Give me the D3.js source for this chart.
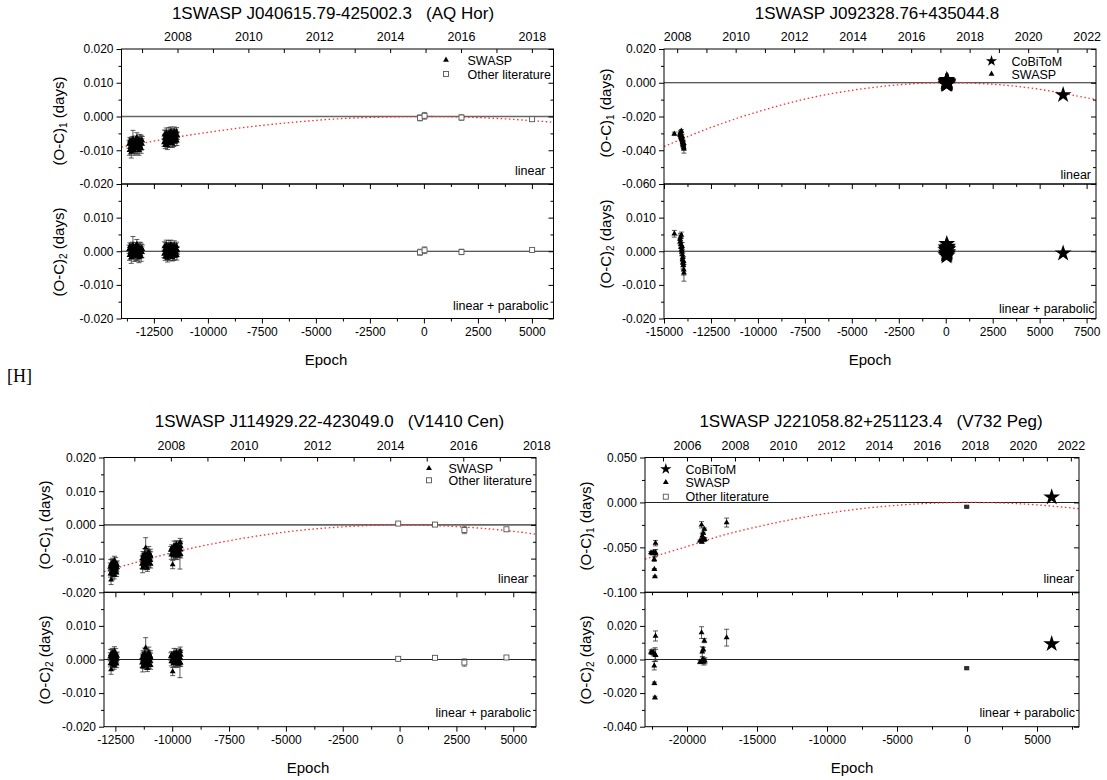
<!DOCTYPE html>
<html><head><meta charset="utf-8">
<script src="https://cdn.jsdelivr.net/npm/d3@7"></script>
<style>body{margin:0;background:#fff}svg{display:block}text{white-space:pre}</style>
</head><body>
<script>
// ================= DATA =================
// ---- Panel 1: 1SWASP J040615.79-425002.3 (AQ Hor)
const p1SwaspE = [-13650,-13630,-13610,-13590,-13570,-13550,-13530,-13510,-13490,-13470,-13450,-13430,-13410,-13390,-13370,-13350,-13330,-13310,-13290,-13270,-13250,-13230,-13210,-13190,-13170,-13150,-13130,-13110,-13090,-13070,-13055,-13040,
-12030,-12012,-11995,-11977,-11960,-11942,-11925,-11907,-11890,-11872,-11855,-11837,-11820,-11802,-11785,-11767,-11750,-11732,-11715,-11697,-11680,-11662,-11645,-11627,-11610,-11592,-11575,-11557,-11540,-11522,-11505,-11487,-11470,-11452,-11435,-11410];
const p1SwaspOC1 = [-0.0082,-0.0100,-0.0072,-0.0091,-0.0078,-0.0105,-0.0084,-0.0075,-0.0093,-0.0066,-0.0095,-0.0081,-0.0100,-0.0076,-0.0086,-0.0071,-0.0092,-0.0080,-0.0062,-0.0095,-0.0075,-0.0087,-0.0070,-0.0100,-0.0080,-0.0070,-0.0088,-0.0075,-0.0095,-0.0070,-0.0082,-0.0072,
-0.0077,-0.0054,-0.0065,-0.0085,-0.0058,-0.0071,-0.0049,-0.0078,-0.0060,-0.0086,-0.0054,-0.0065,-0.0078,-0.0049,-0.0071,-0.0057,-0.0079,-0.0060,-0.0044,-0.0073,-0.0052,-0.0065,-0.0081,-0.0056,-0.0049,-0.0072,-0.0059,-0.0045,-0.0075,-0.0056,-0.0068,-0.0051,-0.0063,-0.0045,-0.0072,-0.0057];
const p1SwaspOC2 = [0.0006,-0.0012,0.0015,-0.0004,0.0009,-0.0018,0.0002,0.0011,-0.0007,0.0019,-0.0010,0.0004,-0.0015,0.0008,-0.0002,0.0013,-0.0009,0.0003,0.0021,-0.0013,0.0007,-0.0005,0.0012,-0.0019,0.0001,0.0010,-0.0008,0.0005,-0.0016,0.0009,-0.0003,0.0006,
-0.0008,0.0014,0.0003,-0.0017,0.0009,-0.0004,0.0018,-0.0011,0.0006,-0.0020,0.0012,0.0001,-0.0013,0.0016,-0.0006,0.0008,-0.0015,0.0004,0.0020,-0.0009,0.0011,-0.0002,-0.0018,0.0007,0.0013,-0.0010,0.0003,0.0017,-0.0014,0.0005,-0.0007,0.0010,-0.0003,0.0015,-0.0012,0.0002];
const p1SwaspErr = [0.0012,0.0015,0.0010,0.0020,0.0013,0.0018,0.0011,0.0016,0.0014,0.0025,0.0012,0.0017,0.0015,0.0010,0.0022,0.0013,0.0019,0.0011,0.0014,0.0016,0.0012,0.0018,0.0010,0.0015,0.0013,0.0017,0.0011,0.0020,0.0014,0.0012,0.0016,0.0013,
0.0011,0.0014,0.0012,0.0010,0.0016,0.0013,0.0015,0.0011,0.0018,0.0012,0.0014,0.0010,0.0013,0.0016,0.0011,0.0015,0.0012,0.0019,0.0013,0.0010,0.0014,0.0012,0.0011,0.0015,0.0013,0.0017,0.0010,0.0014,0.0012,0.0016,0.0011,0.0013,0.0015,0.0012,0.0014,0.0011];
const p1LitE = [-180, 30, 1740, 5010];
const p1LitOC1 = [-0.0004, 0.0002, -0.0003, -0.0008];
const p1LitOC2 = [-0.0003, 0.0003, -0.0002, 0.0004];
const p1LitErr = [0.0009, 0.0010, 0.0008, 0.0002];
const p1FitE = [-14000,-12000,-10000,-8000,-6000,-4000,-2000,0,2000,4000,6000];
const p1FitOC = [-0.0091,-0.0067,-0.0047,-0.0030,-0.0017,-0.0007,-0.0002,0.0000,-0.0002,-0.0008,-0.0017];
const p1XTicks = [-12500,-10000,-7500,-5000,-2500,0,2500,5000];
const p1XMinor = [-13750,-11250,-8750,-6250,-3750,-1250,1250,3750];
const p1YATicks = [0.02,0.01,0,-0.01,-0.02];
const p1YBTicks = [0.01,0,-0.01,-0.02];
const p1YMinor = [0.015,0.005,-0.005,-0.015];
const p1YearTicks = [2007,2008,2009,2010,2011,2012,2013,2014,2015,2016,2017,2018];
const p1YearLabels = [2008,2010,2012,2014,2016,2018];

// ---- Panel 2: 1SWASP J092328.76+435044.8
const p2SwaspE = [-14450,-14150,-14135,-14120,-14105,-14090,-14075,-14062,-14050,-14038,-14025,-14012,-14000,-13988,-13975,-13962,-13950,-13940];
const p2SwaspOC1 = [-0.0303,-0.0303,-0.0310,-0.0295,-0.0316,-0.0323,-0.0286,-0.0328,-0.0334,-0.0317,-0.0341,-0.0355,-0.0348,-0.0365,-0.0371,-0.0359,-0.0383,-0.0392];
const p2SwaspOC2 = [0.0052,0.0036,0.0028,0.0042,0.0020,0.0012,0.0048,0.0005,-0.0002,0.0015,-0.0010,-0.0025,-0.0018,-0.0035,-0.0042,-0.0030,-0.0055,-0.0064];
const p2SwaspErr = [0.0010,0.0012,0.0009,0.0011,0.0010,0.0013,0.0009,0.0012,0.0010,0.0011,0.0014,0.0012,0.0013,0.0015,0.0012,0.0014,0.0016,0.0025];
const p2CobE = [0,8,16,24,32,40,48,56,64,72,80,88,96,104,112,120,6250];
const p2CobOC1 = [0.0004,-0.0008,0.0010,-0.0003,0.0007,-0.0012,0.0003,0.0018,-0.0006,0.0008,-0.0010,0.0004,-0.0005,0.0011,-0.0002,0.0006,-0.0072];
const p2CobOC2 = [0.0004,-0.0010,0.0012,-0.0004,0.0008,-0.0015,0.0003,0.0022,-0.0008,0.0010,-0.0012,0.0005,-0.0006,0.0014,-0.0002,0.0007,-0.0006];
const p2CobErr = [0,0,0,0,0,0,0,0,0,0,0,0,0,0,0,0,0];
const p2FitE = [-15000,-12500,-10000,-7500,-5000,-2500,0,2500,5000,7500,8000];
const p2FitOC = [-0.0378,-0.0265,-0.0172,-0.0097,-0.0045,-0.0012,0.0000,-0.0009,-0.0039,-0.0089,-0.0101];
const p2XTicks = [-15000,-12500,-10000,-7500,-5000,-2500,0,2500,5000,7500];
const p2XMinor = [-13750,-11250,-8750,-6250,-3750,-1250,1250,3750,6250];
const p2YATicks = [0.02,0,-0.02,-0.04,-0.06];
const p2YAMinor = [0.01,-0.01,-0.03,-0.05];
const p2YBTicks = [0.01,0,-0.01,-0.02];
const p2YBMinor = [0.015,0.005,-0.005,-0.015];
const p2YearTicks = [2008,2009,2010,2011,2012,2013,2014,2015,2016,2017,2018,2019,2020,2021,2022];
const p2YearLabels = [2008,2010,2012,2014,2016,2018,2020,2022];

// ---- Panel 3: 1SWASP J114929.22-423049.0 (V1410 Cen)
const p3SwaspE = [-12730,-12716,-12703,-12689,-12676,-12662,-12649,-12635,-12622,-12608,-12595,-12581,-12568,-12554,-12541,-12527,-12514,-12500,-12487,-12473,-12460,-12446,-12433,-12420,
-11330,-11315,-11300,-11285,-11270,-11255,-11240,-11225,-11210,-11195,-11180,-11167,-11150,-11135,-11120,-11105,-11090,-11075,-11060,-11045,-11030,-11015,-11000,-10985,-10970,-10960,-10950,-10945,
-10060,-10040,-10020,-9980,-9960,-9940,-9920,-9900,-9880,-9860,-9840,-9820,-9800,-9780,-9760,-9740,-9720,-9700,-9680,-9660,-9650,-9640,-9630,-9625];
const p3SwaspOC1 = [-0.0125,-0.0145,-0.0118,-0.0163,-0.0128,-0.0121,-0.0139,-0.0112,-0.0147,-0.0130,-0.0118,-0.0140,-0.0125,-0.0149,-0.0106,-0.0134,-0.0121,-0.0141,-0.0114,-0.0131,-0.0122,-0.0142,-0.0126,-0.0119,
-0.0116,-0.0100,-0.0127,-0.0091,-0.0103,-0.0120,-0.0095,-0.0109,-0.0086,-0.0116,-0.0100,-0.0068,-0.0122,-0.0091,-0.0105,-0.0095,-0.0128,-0.0086,-0.0109,-0.0097,-0.0080,-0.0114,-0.0100,-0.0088,-0.0105,-0.0090,-0.0116,-0.0094,
-0.0075,-0.0089,-0.0069,-0.0118,-0.0079,-0.0092,-0.0062,-0.0075,-0.0084,-0.0068,-0.0089,-0.0057,-0.0078,-0.0092,-0.0070,-0.0062,-0.0081,-0.0067,-0.0084,-0.0089,-0.0052,-0.0073,-0.0087,-0.0064];
const p3SwaspOC2 = [0.0008,-0.0012,0.0015,-0.0030,0.0004,0.0011,-0.0007,0.0020,-0.0015,0.0002,0.0013,-0.0009,0.0006,-0.0018,0.0025,-0.0004,0.0009,-0.0011,0.0016,-0.0002,0.0007,-0.0013,0.0003,0.0010,
-0.0010,0.0006,-0.0022,0.0014,0.0002,-0.0015,0.0009,-0.0005,0.0018,-0.0012,0.0003,0.0035,-0.0019,0.0011,-0.0003,0.0007,-0.0026,0.0015,-0.0008,0.0004,0.0021,-0.0014,0.0000,0.0012,-0.0006,0.0009,-0.0017,0.0005,
0.0009,-0.0006,0.0014,-0.0036,0.0003,-0.0011,0.0019,0.0006,-0.0004,0.0012,-0.0009,0.0022,0.0001,-0.0013,0.0008,0.0016,-0.0003,0.0010,-0.0007,-0.0012,0.0025,0.0004,-0.0010,0.0013];
const p3SwaspErr = [0.0012,0.0010,0.0015,0.0014,0.0011,0.0018,0.0009,0.0013,0.0016,0.0012,0.0010,0.0014,0.0020,0.0011,0.0013,0.0015,0.0009,0.0012,0.0017,0.0010,0.0014,0.0011,0.0013,0.0012,
0.0013,0.0010,0.0015,0.0012,0.0018,0.0011,0.0014,0.0010,0.0016,0.0012,0.0013,0.0030,0.0011,0.0015,0.0012,0.0017,0.0010,0.0014,0.0013,0.0011,0.0016,0.0012,0.0015,0.0010,0.0013,0.0018,0.0012,0.0014,
0.0011,0.0013,0.0010,0.0012,0.0015,0.0011,0.0014,0.0010,0.0016,0.0012,0.0013,0.0010,0.0017,0.0011,0.0014,0.0012,0.0015,0.0010,0.0013,0.0042,0.0012,0.0016,0.0011,0.0014];
const p3LitE = [-60, 1560, 2850, 4700];
const p3LitOC1 = [0.0004, 0.0001, -0.0015, -0.0013];
const p3LitOC2 = [0.0002, 0.0005, -0.0009, 0.0006];
const p3LitErr = [0.0002, 0.0005, 0.0011, 0.0004];
const p3FitE = [-13000,-11000,-9000,-7000,-5000,-3000,-1000,0,1000,3000,5000,6000];
const p3FitOC = [-0.0139,-0.0100,-0.0067,-0.0041,-0.0021,-0.0008,-0.0001,0.0000,-0.0001,-0.0007,-0.0019,-0.0028];
const p3XTicks = [-12500,-10000,-7500,-5000,-2500,0,2500,5000];
const p3XMinor = [-11250,-8750,-6250,-3750,-1250,1250,3750];
const p3YATicks = [0.02,0.01,0,-0.01,-0.02];
const p3YBTicks = [0.01,0,-0.01,-0.02];
const p3YMinor = [0.015,0.005,-0.005,-0.015];
const p3YearTicks = [2007,2008,2009,2010,2011,2012,2013,2014,2015,2016,2017];
const p3YearLabels = [2008,2010,2012,2014,2016,2018];

// ---- Panel 4: 1SWASP J221058.82+251123.4 (V732 Peg)
const p4SwaspE = [-22570,-22480,-22400,-22340,-22330,-22290,-22280,-22250,-22240,-19070,-18960,-18940,-18910,-18870,-18840,-18800,-18760,-18720,-17170];
const p4SwaspOC1 = [-0.0558,-0.0570,-0.0558,-0.0632,-0.0743,-0.0825,-0.0565,-0.0453,-0.0560,-0.0428,-0.0249,-0.0440,-0.0372,-0.0405,-0.0342,-0.0416,-0.0297,-0.0410,-0.0224];
const p4SwaspOC2 = [0.0045,0.0040,0.0042,-0.0037,-0.0142,-0.0227,0.0030,0.0140,0.0025,-0.0015,0.0160,-0.0012,0.0046,0.0001,0.0060,-0.0013,0.0112,-0.0008,0.0130];
const p4SwaspErr = [0.0012,0.0010,0.0020,0.0025,0.0008,0.0008,0.0040,0.0030,0.0035,0.0010,0.0035,0.0012,0.0030,0.0015,0.0012,0.0020,0.0012,0.0018,0.0050];
const p4LitE = [-20];
const p4LitOC1 = [-0.0048];
const p4LitOC2 = [-0.0052];
const p4LitErr = [0.0006];
const p4CobE = [6050];
const p4CobOC1 = [0.0058];
const p4CobOC2 = [0.0093];
const p4CobErr = [0];
const p4FitE = [-23000,-20000,-17500,-15000,-12500,-10000,-7500,-5000,-2500,0,2500,5000,7500,8000];
const p4FitOC = [-0.0631,-0.0490,-0.0368,-0.0272,-0.0189,-0.0122,-0.0068,-0.0032,-0.0009,0.0000,-0.0006,-0.0027,-0.0062,-0.0071];
const p4XTicks = [-20000,-15000,-10000,-5000,0,5000];
const p4XMinor = [-22500,-17500,-12500,-7500,-2500,2500,7500];
const p4YATicks = [0.05,0,-0.05,-0.1];
const p4YAMinor = [0.025,-0.025,-0.075];
const p4YBTicks = [0.02,0,-0.02,-0.04];
const p4YBMinor = [0.03,0.01,-0.01,-0.03];
const p4YearTicks = [2005,2006,2007,2008,2009,2010,2011,2012,2013,2014,2015,2016,2017,2018,2019,2020,2021,2022];
const p4YearLabels = [2006,2008,2010,2012,2014,2016,2018,2020,2022];

// ================= LAYOUT / DRAWING =================
const FONT = '"Liberation Sans", Arial, Helvetica, sans-serif';
const svg = d3.select("body").append("svg").attr("width",1107).attr("height",780);
const fmt3 = v => (Math.abs(v) < 1e-12 ? "0.000" : v.toFixed(3));

const panels = [
 { title:"1SWASP J040615.79-425002.3   (AQ Hor)", titleX:333, titleY:19,
   x0:121.5, w:432, yTop:49, yDiv:184, yBot:318.5,
   xDomain:[-14000,6000], yearDomain:[2006.42,2018.61], yADomain:[-0.02,0.02], yBDomain:[-0.02,0.02],
   xTicks:p1XTicks, xMinor:p1XMinor, yATicks:p1YATicks, yAMinor:p1YMinor, yBTicks:p1YBTicks, yBMinor:p1YMinor,
   yearTicks:p1YearTicks, yearLabels:p1YearLabels,
   fitE:p1FitE, fitOC:p1FitOC, zeroA:["#666",1.6], zeroB:["#222",1.1],
   series:[{type:"tri",E:p1SwaspE,A:p1SwaspOC1,B:p1SwaspOC2,err:p1SwaspErr},
           {type:"sq",E:p1LitE,A:p1LitOC1,B:p1LitOC2,err:p1LitErr}],
   legend:[{type:"tri",x:446,y:60,label:"SWASP",tx:467.5},{type:"sq",x:446,y:74,label:"Other literature",tx:467.5}],
   linX:545.5, linY:175, lpX:548.5, lpY:309.5, epochX:326, epochY:365,
   ylabX:64, ylabAY:121, ylabBY:252 },
 { title:"1SWASP J092328.76+435044.8", titleX:877, titleY:19,
   x0:664, w:432, yTop:49, yDiv:184, yBot:318.5,
   xDomain:[-15000,8000], yearDomain:[2007.55,2022.32], yADomain:[-0.06,0.02], yBDomain:[-0.02,0.02],
   xTicks:p2XTicks, xMinor:p2XMinor, yATicks:p2YATicks, yAMinor:p2YAMinor, yBTicks:p2YBTicks, yBMinor:p2YBMinor,
   yearTicks:p2YearTicks, yearLabels:p2YearLabels,
   fitE:p2FitE, fitOC:p2FitOC, zeroA:["#222",1.1], zeroB:["#222",1.1],
   series:[{type:"tri",E:p2SwaspE,A:p2SwaspOC1,B:p2SwaspOC2,err:p2SwaspErr},
           {type:"star",E:p2CobE,A:p2CobOC1,B:p2CobOC2,err:p2CobErr}],
   legend:[{type:"star",x:991.5,y:61,label:"CoBiToM",tx:1011.5},{type:"tri",x:991.5,y:74,label:"SWASP",tx:1011.5}],
   linX:1091, linY:178.5, lpX:1094.5, lpY:312.5, epochX:870, epochY:365,
   ylabX:611, ylabAY:113, ylabBY:244 },
 { title:"1SWASP J114929.22-423049.0   (V1410 Cen)", titleX:329.5, titleY:426.5,
   x0:104, w:432, yTop:457.5, yDiv:592.3, yBot:726.7,
   xDomain:[-13000,6000], yearDomain:[2006.17,2017.99], yADomain:[-0.02,0.02], yBDomain:[-0.02,0.02],
   xTicks:p3XTicks, xMinor:p3XMinor, yATicks:p3YATicks, yAMinor:p3YMinor, yBTicks:p3YBTicks, yBMinor:p3YMinor,
   yearTicks:p3YearTicks, yearLabels:p3YearLabels,
   fitE:p3FitE, fitOC:p3FitOC, zeroA:["#666",1.6], zeroB:["#222",1.1],
   series:[{type:"tri",E:p3SwaspE,A:p3SwaspOC1,B:p3SwaspOC2,err:p3SwaspErr},
           {type:"sq",E:p3LitE,A:p3LitOC1,B:p3LitOC2,err:p3LitErr}],
   legend:[{type:"tri",x:429,y:468.3,label:"SWASP",tx:448.5},{type:"sq",x:429,y:480.3,label:"Other literature",tx:448.5}],
   linX:528.5, linY:582.8, lpX:531, lpY:717, epochX:308, epochY:773,
   ylabX:50, ylabAY:525, ylabBY:660 },
 { title:"1SWASP J221058.82+251123.4   (V732 Peg)", titleX:871, titleY:426.5,
   x0:645, w:434, yTop:457.5, yDiv:592.3, yBot:726.7,
   xDomain:[-23000,8000], yearDomain:[2004.25,2022.34], yADomain:[-0.1,0.05], yBDomain:[-0.04,0.04],
   xTicks:p4XTicks, xMinor:p4XMinor, yATicks:p4YATicks, yAMinor:p4YAMinor, yBTicks:p4YBTicks, yBMinor:p4YBMinor,
   yearTicks:p4YearTicks, yearLabels:p4YearLabels,
   fitE:p4FitE, fitOC:p4FitOC, zeroA:["#222",1.1], zeroB:["#222",1.1],
   series:[{type:"tri",E:p4SwaspE,A:p4SwaspOC1,B:p4SwaspOC2,err:p4SwaspErr},
           {type:"sqd",E:p4LitE,A:p4LitOC1,B:p4LitOC2,err:p4LitErr},
           {type:"star",E:p4CobE,A:p4CobOC1,B:p4CobOC2,err:p4CobErr}],
   legend:[{type:"star",x:665.8,y:469,label:"CoBiToM",tx:685.5},{type:"tri",x:665.8,y:482.3,label:"SWASP",tx:685.5},{type:"sq",x:665.8,y:496.7,label:"Other literature",tx:685.5}],
   linX:1074, linY:582.8, lpX:1075, lpY:717, epochX:852, epochY:773,
   ylabX:591, ylabAY:526, ylabBY:660 }
];

function marker(g, type, cx, cy, big){
  if(type==="tri"){
    g.append("path").attr("d", d3.symbol(d3.symbolTriangle, 15)()).attr("transform",`translate(${cx},${cy})`).attr("fill","#000");
  } else if(type==="sq"){
    g.append("rect").attr("x",cx-2.5).attr("y",cy-2.5).attr("width",5).attr("height",5).attr("fill","#fff").attr("stroke","#555").attr("stroke-width",0.9);
  } else if(type==="sqd"){
    g.append("rect").attr("x",cx-2).attr("y",cy-1.6).attr("width",4).attr("height",3.2).attr("fill","#333").attr("stroke","#222").attr("stroke-width",0.9);
  } else {
    g.append("path").attr("d", d3.symbol(d3.symbolStar, big?88:40)()).attr("transform",`translate(${cx},${cy})`).attr("fill","#000");
  }
}

function styleAxis(sel){
  sel.select(".domain").remove();
  sel.attr("font-family",FONT).attr("font-size",12);
  sel.selectAll("text").attr("fill","#000");
  sel.selectAll("line").attr("stroke","#000").attr("stroke-width",1);
}

function drawPanel(P){
  const g = svg.append("g");
  const x = d3.scaleLinear().domain(P.xDomain).range([P.x0, P.x0+P.w]);
  const yr = d3.scaleLinear().domain(P.yearDomain).range([P.x0, P.x0+P.w]);
  const yA = d3.scaleLinear().domain(P.yADomain).range([P.yDiv, P.yTop]);
  const yB = d3.scaleLinear().domain(P.yBDomain).range([P.yBot, P.yDiv]);

  // zero lines
  g.append("line").attr("x1",P.x0).attr("x2",P.x0+P.w).attr("y1",yA(0)).attr("y2",yA(0))
    .attr("stroke",P.zeroA[0]).attr("stroke-width",P.zeroA[1]);
  g.append("line").attr("x1",P.x0).attr("x2",P.x0+P.w).attr("y1",yB(0)).attr("y2",yB(0))
    .attr("stroke",P.zeroB[0]).attr("stroke-width",P.zeroB[1]);

  // fitted curve (red dotted)
  const line = d3.line().x(d=>x(d[0])).y(d=>yA(d[1])).curve(d3.curveNatural);
  g.append("path").attr("d", line(d3.zip(P.fitE, P.fitOC)))
    .attr("fill","none").attr("stroke","#ff2a2a").attr("stroke-width",1.3).attr("stroke-dasharray","1.5,2.6");

  // data
  P.series.forEach(s=>{
    const n = Math.min(s.E.length, s.A.length, s.B.length, s.err.length);
    const ecol = s.type==="sq" ? "#555" : "#333";
    [[yA, s.A],[yB, s.B]].forEach(([ys, vals])=>{
      const eg = g.append("g").attr("stroke",ecol).attr("stroke-width",0.8);
      for(let i=0;i<n;i++){
        const e = s.err[i]; if(!(e>0)) continue;
        const cx = x(s.E[i]), y1 = ys(vals[i]-e), y2 = ys(vals[i]+e);
        eg.append("line").attr("x1",cx).attr("x2",cx).attr("y1",y1).attr("y2",y2);
        eg.append("line").attr("x1",cx-2.5).attr("x2",cx+2.5).attr("y1",y1).attr("y2",y1);
        eg.append("line").attr("x1",cx-2.5).attr("x2",cx+2.5).attr("y1",y2).attr("y2",y2);
      }
      const mg = g.append("g");
      for(let i=0;i<n;i++) marker(mg, s.type, x(s.E[i]), ys(vals[i]), true);
    });
  });

  // frames
  g.append("rect").attr("x",P.x0).attr("y",P.yTop).attr("width",P.w).attr("height",P.yDiv-P.yTop)
    .attr("fill","none").attr("stroke","#000").attr("stroke-width",1);
  g.append("rect").attr("x",P.x0).attr("y",P.yDiv).attr("width",P.w).attr("height",P.yBot-P.yDiv)
    .attr("fill","none").attr("stroke","#000").attr("stroke-width",1);

  // left axes (outward)
  styleAxis(g.append("g").attr("transform",`translate(${P.x0},0)`).call(d3.axisLeft(yA).tickValues(P.yATicks).tickSize(5).tickPadding(3).tickFormat(fmt3)));
  styleAxis(g.append("g").attr("transform",`translate(${P.x0},0)`).call(d3.axisLeft(yA).tickValues(P.yAMinor).tickSize(3).tickFormat("")));
  styleAxis(g.append("g").attr("transform",`translate(${P.x0},0)`).call(d3.axisLeft(yB).tickValues(P.yBTicks).tickSize(5).tickPadding(3).tickFormat(fmt3)));
  styleAxis(g.append("g").attr("transform",`translate(${P.x0},0)`).call(d3.axisLeft(yB).tickValues(P.yBMinor).tickSize(3).tickFormat("")));
  // right axes (inward)
  styleAxis(g.append("g").attr("transform",`translate(${P.x0+P.w},0)`).call(d3.axisLeft(yA).tickValues(P.yATicks).tickSize(5).tickFormat("")));
  styleAxis(g.append("g").attr("transform",`translate(${P.x0+P.w},0)`).call(d3.axisLeft(yA).tickValues(P.yAMinor).tickSize(3).tickFormat("")));
  styleAxis(g.append("g").attr("transform",`translate(${P.x0+P.w},0)`).call(d3.axisLeft(yB).tickValues(P.yBTicks).tickSize(5).tickFormat("")));
  styleAxis(g.append("g").attr("transform",`translate(${P.x0+P.w},0)`).call(d3.axisLeft(yB).tickValues(P.yBMinor).tickSize(3).tickFormat("")));
  // bottom axis (outward) with labels
  styleAxis(g.append("g").attr("transform",`translate(0,${P.yBot})`).call(d3.axisBottom(x).tickValues(P.xTicks).tickSize(5).tickPadding(4).tickFormat(d=>String(d))));
  styleAxis(g.append("g").attr("transform",`translate(0,${P.yBot})`).call(d3.axisBottom(x).tickValues(P.xMinor).tickSize(3).tickFormat("")));
  // divider ticks
  styleAxis(g.append("g").attr("transform",`translate(0,${P.yDiv})`).call(d3.axisBottom(x).tickValues(P.xTicks).tickSize(5).tickFormat("")));
  styleAxis(g.append("g").attr("transform",`translate(0,${P.yDiv})`).call(d3.axisBottom(x).tickValues(P.xMinor).tickSize(3).tickFormat("")));
  // top year axis (ticks inward, labels above)
  styleAxis(g.append("g").attr("transform",`translate(0,${P.yTop})`).call(d3.axisBottom(yr).tickValues(P.yearTicks).tickSize(4).tickFormat("")));
  const ya = g.append("g").attr("transform",`translate(0,${P.yTop})`).call(d3.axisTop(yr).tickValues(P.yearLabels).tickSize(0).tickPadding(8).tickFormat(d=>String(d)));
  styleAxis(ya); ya.attr("font-size",12.5);

  // titles / labels
  const T = (xx,yy,txt,size,anchor)=>g.append("text").attr("x",xx).attr("y",yy).attr("font-family",FONT)
      .attr("font-size",size).attr("text-anchor",anchor||"middle").attr("fill","#000").attr("xml:space","preserve").text(txt);
  T(P.titleX, P.titleY, P.title, 17);
  T(P.epochX, P.epochY, "Epoch", 15);
  T(P.linX, P.linY, "linear", 12.5, "end");
  T(P.lpX, P.lpY, "linear + parabolic", 12.5, "end");

  [[P.ylabAY,"1"],[P.ylabBY,"2"]].forEach(([cy,sub])=>{
    const t = g.append("text").attr("transform",`translate(${P.ylabX},${cy}) rotate(-90)`)
      .attr("text-anchor","middle").attr("font-family",FONT).attr("font-size",15).attr("fill","#000");
    t.append("tspan").text("(O-C)");
    t.append("tspan").attr("font-size",10).attr("dy",3).text(sub);
    t.append("tspan").attr("dy",-3).text(" (days)");
  });

  // legend
  P.legend.forEach(L=>{
    marker(g, L.type, L.x, L.y, false);
    T(L.tx, L.y+4.5, L.label, 12.5, "start");
  });
}

panels.forEach(drawPanel);

svg.append("text").attr("x",7).attr("y",382).attr("font-family",'"Liberation Serif", "Times New Roman", serif')
  .attr("font-size",18).attr("fill","#000").text("[H]");
</script>
</body></html>
